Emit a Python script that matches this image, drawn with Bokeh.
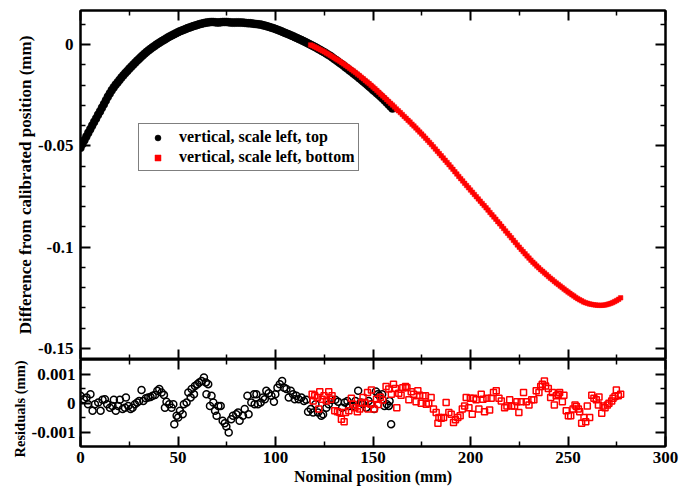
from bokeh.plotting import figure
from bokeh.layouts import column
from bokeh.models import (Range1d, LinearAxis, FixedTicker, Legend, LegendItem,
                          CustomLabelingPolicy, Title)
from bokeh.embed import file_html
from bokeh.resources import INLINE

FONT = "Liberation Serif"

# ---------------- data ----------------
top_x_black = list(range(0, 161))
top_y_black = [
    -0.0510, -0.0491, -0.0472, -0.0454, -0.0436, -0.0418, -0.0400, -0.0382, -0.0365, -0.0347,
    -0.0330, -0.0312, -0.0295, -0.0276, -0.0258, -0.0242, -0.0226, -0.0212, -0.0199, -0.0187,
    -0.0175, -0.0163, -0.0152, -0.0141, -0.0131, -0.0120, -0.0110, -0.0100, -0.0090, -0.0080,
    -0.0071, -0.0062, -0.0053, -0.0044, -0.0036, -0.0028, -0.0021, -0.0014, -0.0007, 0.0000,
    0.0006, 0.0012, 0.0018, 0.0024, 0.0030, 0.0036, 0.0041, 0.0046, 0.0051, 0.0056,
    0.0061, 0.0065, 0.0069, 0.0073, 0.0077, 0.0081, 0.0084, 0.0088, 0.0091, 0.0094,
    0.0097, 0.0100, 0.0103, 0.0105, 0.0107, 0.0109, 0.0110, 0.0111, 0.0111, 0.0110,
    0.0109, 0.0109, 0.0110, 0.0111, 0.0111, 0.0111, 0.0110, 0.0109, 0.0108, 0.0108,
    0.0109, 0.0109, 0.0108, 0.0108, 0.0107, 0.0106, 0.0105, 0.0105, 0.0104, 0.0102,
    0.0101, 0.0100, 0.0099, 0.0097, 0.0094, 0.0092, 0.0089, 0.0086, 0.0083, 0.0080,
    0.0076, 0.0073, 0.0069, 0.0065, 0.0061, 0.0057, 0.0053, 0.0049, 0.0045, 0.0041,
    0.0036, 0.0032, 0.0027, 0.0023, 0.0018, 0.0014, 0.0009, 0.0004, -0.0001, -0.0006,
    -0.0011, -0.0016, -0.0022, -0.0027, -0.0033, -0.0038, -0.0044, -0.0050, -0.0056, -0.0063,
    -0.0070, -0.0077, -0.0084, -0.0091, -0.0098, -0.0105, -0.0113, -0.0120, -0.0128, -0.0135,
    -0.0143, -0.0150, -0.0158, -0.0166, -0.0174, -0.0182, -0.0190, -0.0198, -0.0207, -0.0215,
    -0.0224, -0.0232, -0.0241, -0.0249, -0.0258, -0.0267, -0.0276, -0.0286, -0.0296, -0.0306,
    -0.0316,
]

top_x_red = list(range(118, 278))
top_y_red = [
    -0.0002, -0.0006, -0.0011, -0.0016, -0.0021, -0.0026, -0.0031, -0.0036, -0.0042, -0.0047,
    -0.0053, -0.0059, -0.0065, -0.0071, -0.0077, -0.0083, -0.0090, -0.0096, -0.0103, -0.0110,
    -0.0117, -0.0124, -0.0131, -0.0138, -0.0146, -0.0153, -0.0161, -0.0169, -0.0177, -0.0185,
    -0.0193, -0.0201, -0.0210, -0.0218, -0.0227, -0.0236, -0.0245, -0.0254, -0.0263, -0.0272,
    -0.0281, -0.0290, -0.0299, -0.0308, -0.0318, -0.0327, -0.0336, -0.0345, -0.0355, -0.0364,
    -0.0374, -0.0383, -0.0393, -0.0402, -0.0412, -0.0422, -0.0432, -0.0442, -0.0452, -0.0462,
    -0.0473, -0.0483, -0.0494, -0.0505, -0.0516, -0.0527, -0.0538, -0.0549, -0.0560, -0.0571,
    -0.0582, -0.0593, -0.0605, -0.0616, -0.0628, -0.0639, -0.0651, -0.0662, -0.0673, -0.0685,
    -0.0696, -0.0707, -0.0718, -0.0729, -0.0740, -0.0751, -0.0762, -0.0773, -0.0784, -0.0795,
    -0.0806, -0.0817, -0.0829, -0.0840, -0.0851, -0.0862, -0.0874, -0.0885, -0.0897, -0.0908,
    -0.0920, -0.0931, -0.0943, -0.0954, -0.0966, -0.0977, -0.0989, -0.1000, -0.1011, -0.1022,
    -0.1033, -0.1043, -0.1054, -0.1064, -0.1074, -0.1083, -0.1093, -0.1102, -0.1111, -0.1119,
    -0.1128, -0.1136, -0.1145, -0.1153, -0.1161, -0.1169, -0.1177, -0.1184, -0.1192, -0.1199,
    -0.1207, -0.1214, -0.1221, -0.1228, -0.1235, -0.1241, -0.1248, -0.1254, -0.1260, -0.1265,
    -0.1270, -0.1274, -0.1277, -0.1280, -0.1282, -0.1284, -0.1285, -0.1286, -0.1287, -0.1287,
    -0.1286, -0.1285, -0.1283, -0.1280, -0.1277, -0.1273, -0.1268, -0.1263, -0.1257, -0.1250,
]

res_x_black = [
    0.0, 1.7, 3.1, 3.9, 5.1, 6.2, 7.4, 9.1, 10.3, 11.3, 12.5, 13.7, 15.1, 16.4, 17.1, 18.1,
    19.3, 20.2, 21.6, 22.8, 23.3, 24.5, 25.7, 26.7, 27.9, 29.1, 30.1, 31.3, 32.2, 33.5, 34.7,
    35.9, 37.0, 38.2, 39.4, 40.4, 41.6, 42.8, 43.3, 44.1, 45.5, 46.7, 47.6, 48.1, 49.3, 50.1,
    51.0, 52.4, 53.0, 54.4, 55.3, 56.5, 57.0, 58.2, 58.7, 59.9, 60.9, 62.1, 63.3, 64.3, 64.6,
    65.5, 66.4, 67.2, 68.1, 69.0, 69.8, 70.7, 71.9, 72.9, 74.0, 74.8, 76.0, 77.3, 78.2, 79.9,
    80.8, 81.6, 83.3, 84.2, 85.6, 86.2, 87.6, 89.0, 89.3, 90.2, 91.0, 92.4, 93.6, 94.5, 95.3,
    96.5, 97.9, 99.2, 99.9, 101.0, 102.2, 103.4, 104.4, 105.6, 106.8, 107.8, 109.0, 109.9,
    110.7, 111.9, 113.3, 114.6, 115.8, 116.7, 118.1, 119.3, 120.5, 121.8, 123.5, 124.4, 126.1,
    127.3, 128.7, 130.7, 132.1, 134.2, 135.5, 136.9, 138.1, 139.8, 141.0, 142.4, 143.7, 144.9,
    146.6, 147.8, 149.2, 150.6, 151.5, 152.5, 153.3, 154.7, 155.9, 157.1, 158.1, 158.5, 159.3,
]
res_y_black = [
    0.00025, 0.00013, 0.00019, -0.00004, 0.00030, -0.00027, -0.00004, 0.00002, -0.00027, 0.00011,
    0.00013, -0.00004, -0.00016, -0.00010, 0.00011, -0.00027, -0.00010, 0.00011, -0.00021, -0.00016,
    0.00019, -0.00010, -0.00021, -0.00016, -0.00004, 0.00002, 0.00007, 0.00045, 0.00007, 0.00016,
    0.00019, 0.00021, 0.00025, 0.00028, 0.00042, 0.00048, 0.00036, 0.00028, -0.00016, 0.00004,
    -0.00004, -0.00016, -0.00004, -0.00073, -0.00044, -0.00050, -0.00027, -0.00039, -0.00004, 0.00002,
    0.00036, 0.00019, 0.00048, 0.00030, 0.00059, 0.00065, 0.00071, 0.00076, 0.00088, 0.00071,
    0.00030, 0.00065, -0.00010, 0.00025, 0.00002, -0.00027, -0.00044, -0.00010, -0.00010, -0.00061,
    -0.00070, -0.00081, -0.00102, -0.00056, -0.00044, -0.00039, -0.00033, -0.00061, -0.00044, -0.00021,
    0.00025, -0.00039, 0.00002, 0.00030, -0.00004, 0.00030, -0.00004, 0.00002, 0.00019, 0.00013,
    0.00042, 0.00034, 0.00025, 0.00004, 0.00030, 0.00053, 0.00065, 0.00076, 0.00053, 0.00048,
    0.00019, 0.00042, 0.00030, 0.00013, 0.00025, 0.00013, 0.00019, 0.00007, 0.00011, -0.00030,
    -0.00021, -0.00033, -0.00004, -0.00033, -0.00044, -0.00039, -0.00016, -0.00004, 0.00011, 0.00011,
    0.00004, -0.00016, 0.00002, 0.00007, -0.00010, -0.00010, 0.00007, 0.00042, 0.00002, -0.00004,
    -0.00016, 0.00007, -0.00004, -0.00021, 0.00040, 0.00030, 0.00025, 0.00030, -0.00010, -0.00004,
    -0.00010, 0.00007, -0.00073,
]

res_x_red = [
    118.8, 119.3, 120.1, 121.5, 122.2, 122.7, 123.9, 124.9, 126.1, 127.3, 128.3, 129.0, 130.4,
    131.8, 133.0, 133.8, 135.2, 135.9, 137.6, 138.9, 139.8, 140.7, 142.0, 143.2, 144.1, 144.9,
    145.8, 147.2, 147.5, 148.9, 149.2, 150.6, 151.8, 152.8, 153.8, 155.0, 156.7, 158.1, 159.4,
    160.5, 161.5, 162.2, 163.2, 164.4, 165.3, 166.7, 167.4, 168.4, 169.6, 170.8, 172.1, 173.0,
    173.9, 174.7, 175.6, 176.9, 177.3, 178.6, 179.8, 181.0, 182.4, 183.3, 183.8, 185.0, 186.2,
    187.5, 188.9, 190.1, 191.3, 192.3, 193.5, 194.7, 195.8, 197.0, 197.8, 199.2, 199.9, 200.9,
    201.6, 202.9, 204.3, 205.5, 206.4, 207.2, 208.4, 209.8, 210.6, 211.8, 213.2, 214.6, 215.8,
    217.5, 218.7, 220.1, 221.1, 222.6, 223.8, 224.8, 226.0, 227.2, 228.6, 230.0, 231.4, 232.5,
    233.7, 235.1, 236.0, 236.8, 237.9, 238.5, 239.9, 241.1, 242.0, 243.0, 244.0, 245.0, 245.7,
    247.1, 247.9, 249.1, 250.2, 251.4, 252.6, 253.6, 254.3, 255.3, 256.0, 257.0, 258.2, 259.1,
    259.9, 261.1, 262.2, 263.3, 264.5, 265.6, 265.9, 267.3, 268.0, 269.0, 270.2, 271.0, 272.4,
    273.1, 274.1, 274.8, 275.8, 277.0,
]
res_y_red = [
    0.00030, 0.00007, 0.00025, 0.00019, -0.00021, 0.00039, 0.00013, 0.00025, 0.00007, 0.00039,
    0.00013, 0.00025, -0.00027, -0.00030, -0.00033, -0.00056, -0.00065, -0.00033, -0.00027, 0.00016,
    -0.00004, -0.00016, -0.00030, -0.00021, 0.00002, 0.00019, 0.00002, 0.00036, -0.00021, -0.00004,
    0.00045, -0.00021, 0.00013, -0.00005, 0.00020, 0.00010, 0.00057, 0.00048, 0.00030, 0.00065,
    0.00050, -0.00016, 0.00034, 0.00027, 0.00053, 0.00057, 0.00053, 0.00011, 0.00039, 0.00030,
    0.00004, 0.00042, 0.00027, -0.00001, 0.00025, 0.00025, -0.00004, -0.00001, 0.00019, -0.00021,
    -0.00033, -0.00070, -0.00050, -0.00053, -0.00050, 0.00002, -0.00033, -0.00039, -0.00067, -0.00058,
    -0.00050, -0.00044, -0.00021, -0.00010, 0.00019, -0.00016, 0.00016, -0.00039, 0.00016, 0.00011,
    -0.00021, 0.00030, 0.00013, -0.00030, 0.00016, -0.00024, 0.00016, 0.00036, 0.00042, 0.00016,
    0.00007, -0.00016, -0.00010, 0.00011, -0.00010, -0.00010, 0.00004, -0.00033, 0.00004, 0.00036,
    0.00004, -0.00007, 0.00011, 0.00011, 0.00042, 0.00036, 0.00057, 0.00065, 0.00076, 0.00059,
    0.00050, 0.00019, 0.00036, -0.00007, 0.00025, 0.00030, 0.00036, 0.00004, 0.00027, -0.00027,
    -0.00044, -0.00044, -0.00021, -0.00007, -0.00012, -0.00021, -0.00030, -0.00070, -0.00050, -0.00065,
    -0.00010, -0.00050, 0.00027, 0.00016, 0.00011, -0.00007, 0.00021, -0.00035, -0.00010, -0.00016,
    -0.00007, -0.00001, 0.00007, 0.00016, 0.00022, 0.00045, 0.00025, 0.00030,
]

x_ticks = [0, 50, 100, 150, 200, 250, 300]
x_minor = [25, 75, 125, 175, 225, 275]
top_y_ticks = [0, -0.05, -0.1, -0.15]
top_y_labels = ["0", "-0.05", "-0.1", "-0.15"]
top_y_minor = [0.01, -0.01, -0.02, -0.03, -0.04, -0.06, -0.07, -0.08, -0.09,
               -0.11, -0.12, -0.13, -0.14]
res_y_ticks = [0.001, 0, -0.001]
res_y_labels = ["0.001", "0", "-0.001"]
res_y_minor = [0.0005, -0.0005]

legend_labels = ["vertical, scale left, top", "vertical, scale left, bottom"]
x_label = "Nominal position (mm)"
top_y_label = "Difference from calibrated position (mm)"
res_y_label = "Residuals (mm)"

# ---------------- helpers ----------------
NO_LABELS = "const all = [...indices]; for (const i of all) indices.unset(i);"


def style_axis(ax, ticks, minor, labels=None, show=True, size="17px"):
    ax.ticker = FixedTicker(ticks=ticks, minor_ticks=minor)
    ax.major_tick_in = 10
    ax.major_tick_out = 0
    ax.minor_tick_in = 5
    ax.minor_tick_out = 0
    ax.major_tick_line_width = 2
    ax.minor_tick_line_width = 1.5
    ax.major_tick_line_color = "black"
    ax.minor_tick_line_color = "black"
    ax.axis_line_width = 2
    ax.axis_line_color = "black"
    ax.major_label_text_font = FONT
    ax.major_label_text_font_style = "bold"
    ax.major_label_text_color = "black"
    ax.axis_label_text_font = FONT
    ax.axis_label_text_font_style = "bold"
    ax.axis_label_text_color = "black"
    if labels is not None:
        ax.major_label_overrides = {t: l for t, l in zip(ticks, labels)}
    if show:
        ax.major_label_text_font_size = size
    else:
        ax.major_label_text_font_size = "0px"
        ax.major_label_standoff = 0
        ax.major_label_policy = CustomLabelingPolicy(code=NO_LABELS)
        ax.axis_label = None


FW = 585

# ---------------- top panel ----------------
p1 = figure(frame_width=FW, frame_height=349,
            x_range=Range1d(0, 300), y_range=Range1d(-0.15543, 0.01678),
            output_backend="svg", toolbar_location=None,
            min_border_left=80, min_border_right=14, min_border_top=10, min_border_bottom=0)
p1.grid.visible = False
p1.outline_line_color = "black"
p1.outline_line_width = 2

r_black = p1.scatter(top_x_black, top_y_black, marker="circle", size=8,
                     fill_color="black", line_color="black", line_width=0.5)
r_red = p1.scatter(top_x_red, top_y_red, marker="square", size=4.5,
                   fill_color="red", line_color="red", line_width=0.5)

style_axis(p1.xaxis[0], x_ticks, x_minor, show=False)
style_axis(p1.yaxis[0], top_y_ticks, top_y_minor, top_y_labels)
p1.yaxis[0].axis_label = top_y_label
p1.yaxis[0].axis_label_text_font_size = "17px"
p1.yaxis[0].major_label_standoff = 7
p1.yaxis[0].axis_label_standoff = 0

ax_top = LinearAxis()
style_axis(ax_top, x_ticks, x_minor, show=False)
p1.add_layout(ax_top, "above")
ax_r1 = LinearAxis()
style_axis(ax_r1, top_y_ticks, top_y_minor, show=False)
p1.add_layout(ax_r1, "right")

legend = Legend(items=[LegendItem(label=legend_labels[0], renderers=[r_black]),
                       LegendItem(label=legend_labels[1], renderers=[r_red])],
                location=(58, 188))
legend.label_text_font = FONT
legend.label_text_font_style = "bold"
legend.label_text_font_size = "16px"
legend.label_text_color = "black"
legend.border_line_color = "black"
legend.border_line_width = 1
legend.padding = 4
legend.spacing = 2
legend.glyph_width = 29
legend.glyph_height = 15
legend.label_height = 15
legend.label_standoff = 7
legend.margin = 0
p1.add_layout(legend, "center")

# ---------------- residual panel ----------------
p2 = figure(frame_width=FW, frame_height=87,
            x_range=p1.x_range, y_range=Range1d(-0.0015, 0.0015),
            output_backend="svg", toolbar_location=None,
            min_border_left=80, min_border_right=14, min_border_top=0, min_border_bottom=0)
p2.grid.visible = False
p2.outline_line_color = "black"
p2.outline_line_width = 2

p2.scatter(res_x_black, res_y_black, marker="circle", size=7,
           fill_color=None, line_color="black", line_width=1.5)
p2.scatter(res_x_red, res_y_red, marker="square", size=6,
           fill_color=None, line_color="red", line_width=1.5)

style_axis(p2.xaxis[0], x_ticks, x_minor, size="17px")
p2.xaxis[0].axis_label = x_label
p2.xaxis[0].axis_label_text_font_size = "16px"
p2.xaxis[0].major_label_standoff = 5
p2.xaxis[0].axis_label_standoff = 2

style_axis(p2.yaxis[0], res_y_ticks, res_y_minor, res_y_labels)
p2.yaxis[0].major_label_standoff = 5

# title of the residual axis, in the left border; it starts a little below
# the frame's bottom edge, as in the original
res_title = Title(text=res_y_label, align="left", offset=-11, standoff=2,
                  text_font=FONT, text_font_style="bold", text_font_size="14.5px",
                  text_color="black")
p2.add_layout(res_title, "left")

ax_top2 = LinearAxis()
style_axis(ax_top2, x_ticks, x_minor, show=False)
p2.add_layout(ax_top2, "above")
ax_r2 = LinearAxis()
style_axis(ax_r2, res_y_ticks, res_y_minor, show=False)
p2.add_layout(ax_r2, "right")

layout = column(p1, p2, spacing=0)
open("out.html", "w").write(file_html(layout, INLINE))
